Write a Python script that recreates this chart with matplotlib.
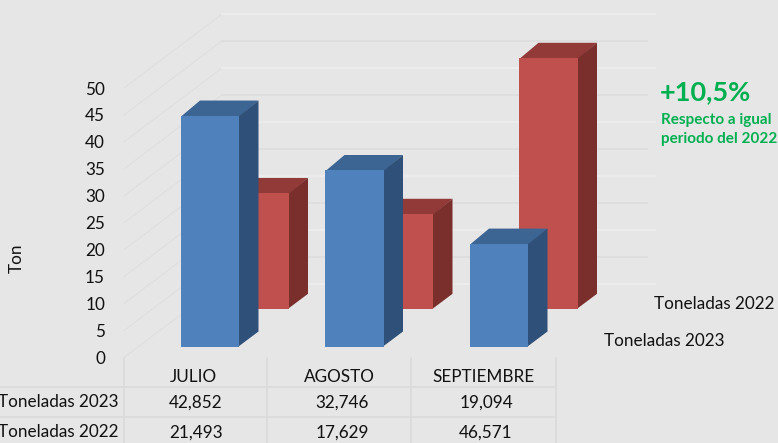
import matplotlib
matplotlib.use("Agg")
import matplotlib.pyplot as plt
from matplotlib.patches import Polygon

categories = ["JULIO", "AGOSTO", "SEPTIEMBRE"]
series_2023 = [42.852, 32.746, 19.094]
series_2022 = [21.493, 17.629, 46.571]
labels_2023 = ["42,852", "32,746", "19,094"]
labels_2022 = ["21,493", "17,629", "46,571"]
y_ticks = [0, 5, 10, 15, 20, 25, 30, 35, 40, 45, 50]

BG = "#E6E6E6"
plt.rcParams['font.family'] = ['Lato', 'DejaVu Sans']
fig = plt.figure(figsize=(7.78, 4.43), dpi=100, facecolor=BG)
ax = fig.add_axes([0, 0, 1, 1], facecolor=BG)
ax.set_xlim(0, 778)
ax.set_ylim(443, 0)
ax.axis("off")

UNIT = 5.39          # px per ton
FRONT0 = 357.5       # floor at the front plane
BACK0 = 283.5        # floor at the back wall
LEFT, BACKLEFT = 124, 222
DX, DY = 19, -15
STEP = 144.5
TXT = "#111111"
FS = 12.3

def y_front(v): return FRONT0 - UNIT * v
def y_back(v): return BACK0 - UNIT * v

# wall grid
for i, v in enumerate(y_ticks):
    ax.plot([LEFT, BACKLEFT], [y_front(v), y_back(v)], color="#DEDEDE", lw=0.7, zorder=1)
    light = (v // 5) % 2 == 0
    ax.plot([BACKLEFT, 655 if light else 647], [y_back(v)] * 2,
            color="#EFEFEF" if light else "#DCDCDC", lw=1.1, zorder=1)

def bar3d(x0, width, base, value, front, top, side, z):
    t = base - UNIT * value
    x1 = x0 + width
    ax.add_patch(Polygon([(x0, t + 1), (x1, t + 1), (x1 + DX, t + DY), (x0 + DX, t + DY)], fc=top, ec="none", zorder=z))
    ax.add_patch(Polygon([(x1 - 1, base), (x1 + DX, base + DY), (x1 + DX, t + DY), (x1 - 1, t + 1)], fc=side, ec="none", zorder=z))
    ax.add_patch(Polygon([(x0, base), (x1, base), (x1, t), (x0, t)], fc=front, ec="none", zorder=z))

for i, v in enumerate(series_2022):
    bar3d(230.5 + STEP * i, 58.5, 308.8, v, "#C0504D", "#923A38", "#7A2F2D", 3)
for i, v in enumerate(series_2023):
    bar3d(181 + STEP * i, 58.5, 346.5, v, "#4F81BD", "#3C6594", "#2F5179", 4)

# y tick labels
for v in y_ticks:
    ax.text(105, y_front(v) + 1.5, str(v), ha="right", va="center", fontsize=FS, color=TXT)
ax.text(17, 258, "Ton", rotation=90, ha="center", va="center", fontsize=FS, color=TXT)

# data table
GRID = "#DBDBDB"
for x in [124, 267.5, 411.5, 556]:
    ax.plot([x, x], [358, 443], color=GRID, lw=1.3, zorder=1)
for y in [386.5, 416.5]:
    ax.plot([0, 556], [y, y], color=GRID, lw=1.3, zorder=1)
centers = [194, 340, 484]
for c, name, a, b in zip(centers, categories, labels_2023, labels_2022):
    ax.text(c - 1, 377, name, ha="center", va="center", fontsize=FS, color=TXT)
    ax.text(c + 2, 403, a, ha="center", va="center", fontsize=FS, color=TXT)
    ax.text(c + 2, 432.5, b, ha="center", va="center", fontsize=FS, color=TXT)
ax.text(119, 402, "Toneladas 2023", ha="right", va="center", fontsize=FS, color=TXT)
ax.text(119, 432, "Toneladas 2022", ha="right", va="center", fontsize=FS, color=TXT)

# legend-like series names
ax.text(654, 304, "Toneladas 2022", ha="left", va="center", fontsize=FS, color=TXT)
ax.text(604, 341, "Toneladas 2023", ha="left", va="center", fontsize=FS, color=TXT)

# annotation
GREEN = "#00B050"
ax.text(660, 92, "+10,5%", ha="left", va="center", fontsize=19.5, fontweight="bold", color=GREEN)
ax.text(661, 120, "Respecto a igual", ha="left", va="center", fontsize=11, fontweight="bold", color=GREEN)
ax.text(661, 139, "periodo del 2022", ha="left", va="center", fontsize=11, fontweight="bold", color=GREEN)

fig.savefig("out.png", dpi=100, facecolor=BG)
